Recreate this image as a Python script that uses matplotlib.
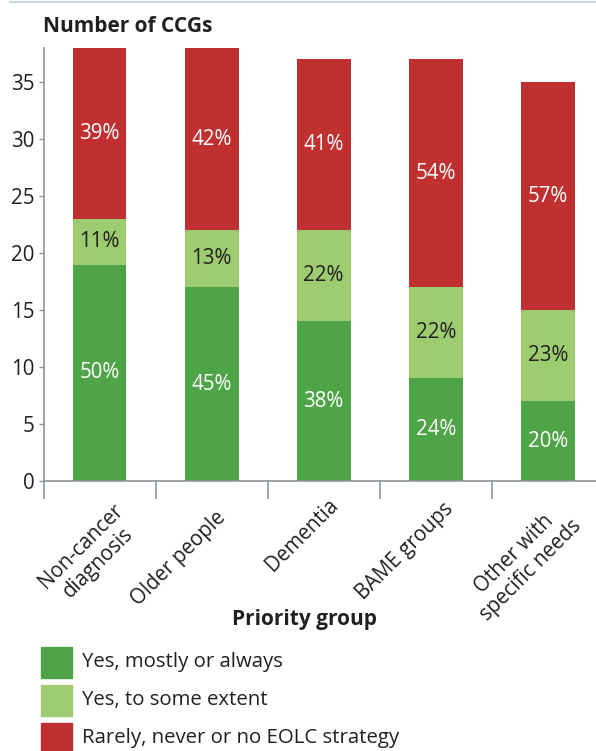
import matplotlib
matplotlib.use("Agg")
import matplotlib.pyplot as plt
from matplotlib.patches import Rectangle
from matplotlib.lines import Line2D
import numpy as np

categories = ["Non-cancer\ndiagnosis", "Older people", "Dementia", "BAME groups", "Other with\nspecific needs"]
yes_mostly = [19, 17, 14, 9, 7]
yes_some = [4, 5, 8, 8, 8]
rarely = [15, 16, 15, 20, 20]
pct_mostly = ["50%", "45%", "38%", "24%", "20%"]
pct_some = ["11%", "13%", "22%", "22%", "23%"]
pct_rarely = ["39%", "42%", "41%", "54%", "57%"]
series_names = ["Yes, mostly or always", "Yes, to some extent", "Rarely, never or no EOLC strategy"]
colors = ["#4ea447", "#9ccc6f", "#c03031"]
yticks = [0, 5, 10, 15, 20, 25, 30, 35]

plt.rcParams['font.family'] = ['Open Sans', 'DejaVu Sans']
txt = "#231f20"
axcol = "#8c939b"
FS = 14.8

fig = plt.figure(figsize=(5.96, 7.51), dpi=100)
ax = fig.add_axes([43.5/596, 1-481/751, 1-43.5/596, (481-48)/751])

x = np.arange(len(categories))
w = 0.48
b1 = np.array(yes_mostly)
b2 = b1 + np.array(yes_some)
ax.bar(x, yes_mostly, w, color=colors[0])
ax.bar(x, yes_some, w, bottom=b1, color=colors[1])
ax.bar(x, rarely, w, bottom=b2, color=colors[2])

for i in range(len(categories)):
    ax.text(x[i], yes_mostly[i]/2, pct_mostly[i], ha='center', va='center', color='white', fontsize=FS)
    ax.text(x[i], b1[i] + yes_some[i]/2, pct_some[i], ha='center', va='center', color=txt, fontsize=FS)
    ax.text(x[i], b2[i] + rarely[i]/2, pct_rarely[i], ha='center', va='center', color='white', fontsize=FS)

ax.set_xlim(-0.5, 4.43)
ax.set_ylim(0, 38)
ax.set_yticks(yticks)
ax.set_yticklabels([str(v) for v in yticks], fontsize=FS, color=txt)
ax.tick_params(axis='y', length=3.5, width=1, color=axcol, pad=3)
ax.set_xticks(np.arange(-0.5, 4.5, 1.0))
ax.set_xticklabels([])
ax.tick_params(axis='x', length=13, width=1.2, color=axcol)
for s in ['top', 'right']:
    ax.spines[s].set_visible(False)
for s in ['left', 'bottom']:
    ax.spines[s].set_color(axcol)
    ax.spines[s].set_linewidth(1.2)

# label anchor offsets (right-centre of text box), in pixels from bar centre at axis
label_off = [(29, -35), (11, -34), (11, -21), (14, -25), (22, -34)]
for i, c in enumerate(categories):
    dx, dy = label_off[i]
    ax.annotate(c, xy=(x[i], 0), xycoords='data', xytext=(dx, dy), textcoords='offset pixels',
                rotation=45, ha='right', va='center', rotation_mode='anchor',
                multialignment='center', fontsize=FS, color=txt, linespacing=1.15,
                annotation_clip=False)

fig.text(43/596, 1-26/751, "Number of CCGs", fontsize=15, fontweight='bold', color=txt, ha='left', va='center')
fig.text(305/596, 1-620/751, "Priority group", fontsize=15, fontweight='bold', color=txt, ha='center', va='center')

fig.add_artist(Line2D([10/596, 1], [1-1.5/751, 1-1.5/751], color="#cdd5df", lw=1.5))

ys = [662, 700, 738]
for i, name in enumerate(series_names):
    fig.add_artist(Rectangle((41/596, 1-(ys[i]+15.5)/751), 31/596, 31/751, color=colors[i], transform=fig.transFigure))
    fig.text(82/596, 1-ys[i]/751, name, fontsize=14.7, color=txt, ha='left', va='center')

fig.savefig("out.png", dpi=100)
